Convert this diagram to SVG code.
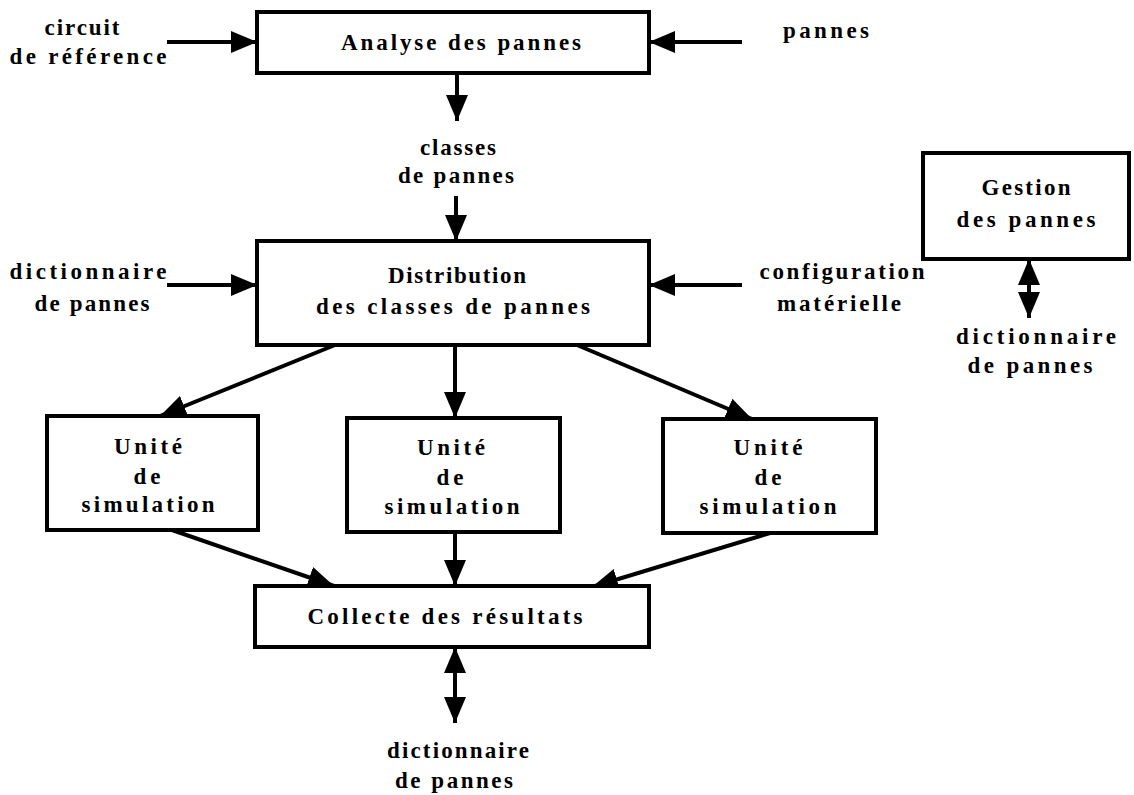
<svg xmlns="http://www.w3.org/2000/svg" width="1134" height="795" viewBox="0 0 1134 795">
<defs>
<style>
.box{fill:#fff;stroke:#000;stroke-width:4}
.c{stroke:#000;stroke-width:4;fill:none}
</style>
<marker id="ah" markerUnits="userSpaceOnUse" markerWidth="28" markerHeight="24" refX="26" refY="11" orient="auto-start-reverse" viewBox="0 0 28 24">
<path d="M0,0 L26,11 L0,22 z" fill="#000"/>
</marker>
</defs>
<rect width="1134" height="795" fill="#fff"/>
<g id="connectors">
<line class="c" x1="167" y1="42" x2="257" y2="42" marker-end="url(#ah)"/>
<line class="c" x1="742" y1="42" x2="649" y2="42" marker-end="url(#ah)"/>
<line class="c" x1="457" y1="73" x2="457" y2="121" marker-end="url(#ah)"/>
<line class="c" x1="456" y1="196" x2="456" y2="241" marker-end="url(#ah)"/>
<line class="c" x1="167" y1="285" x2="257" y2="285" marker-end="url(#ah)"/>
<line class="c" x1="742" y1="285" x2="649" y2="285" marker-end="url(#ah)"/>
<line class="c" x1="335" y1="345" x2="160" y2="416" marker-end="url(#ah)"/>
<line class="c" x1="455" y1="345" x2="455" y2="418" marker-end="url(#ah)"/>
<line class="c" x1="577" y1="345" x2="752" y2="419" marker-end="url(#ah)"/>
<line class="c" x1="172" y1="530" x2="334" y2="586" marker-end="url(#ah)"/>
<line class="c" x1="455" y1="532" x2="455" y2="586" marker-end="url(#ah)"/>
<line class="c" x1="770" y1="533" x2="592" y2="587" marker-end="url(#ah)"/>
<line class="c" x1="455" y1="647" x2="455" y2="723" marker-start="url(#ah)" marker-end="url(#ah)"/>
<line class="c" x1="1029" y1="259" x2="1029" y2="318" marker-start="url(#ah)" marker-end="url(#ah)"/>
</g>
<g font-family="Liberation Serif, DejaVu Serif, serif" font-weight="bold" font-size="23" text-anchor="middle" fill="#000">
<g id="analyse">
<rect class="box" x="257" y="12" width="392" height="61"/>
<text x="461" y="50" textLength="240" lengthAdjust="spacing">Analyse des pannes</text>
</g>
<g id="distribution">
<rect class="box" x="257" y="241" width="392" height="104"/>
<text x="457" y="283" textLength="138" lengthAdjust="spacing">Distribution</text>
<text x="453" y="314" textLength="274" lengthAdjust="spacing">des classes de pannes</text>
</g>
<g id="gestion">
<rect class="box" x="923" y="153" width="206" height="106"/>
<text x="1026" y="195" textLength="89" lengthAdjust="spacing">Gestion</text>
<text x="1026" y="227" textLength="139" lengthAdjust="spacing">des pannes</text>
</g>
<g id="unite1">
<rect class="box" x="47" y="416" width="211" height="114"/>
<text x="148" y="454" textLength="68" lengthAdjust="spacing">Unité</text>
<text x="147" y="484" textLength="27" lengthAdjust="spacing">de</text>
<text x="148" y="512" textLength="133" lengthAdjust="spacing">simulation</text>
</g>
<g id="unite2">
<rect class="box" x="347" y="418" width="213" height="114"/>
<text x="451" y="455" textLength="68" lengthAdjust="spacing">Unité</text>
<text x="450" y="485" textLength="27" lengthAdjust="spacing">de</text>
<text x="452" y="514" textLength="135" lengthAdjust="spacing">simulation</text>
</g>
<g id="unite3">
<rect class="box" x="663" y="419" width="213" height="114"/>
<text x="768" y="455" textLength="69" lengthAdjust="spacing">Unité</text>
<text x="768" y="485" textLength="27" lengthAdjust="spacing">de</text>
<text x="768" y="514" textLength="137" lengthAdjust="spacing">simulation</text>
</g>
<g id="collecte">
<rect class="box" x="255" y="586" width="394" height="61"/>
<text x="445" y="624" textLength="275" lengthAdjust="spacing">Collecte des résultats</text>
</g>
<g id="labels">
<text x="82" y="35" textLength="75" lengthAdjust="spacing">circuit</text>
<text x="88" y="64" textLength="157" lengthAdjust="spacing">de référence</text>
<text x="826" y="38" textLength="86" lengthAdjust="spacing">pannes</text>
<text x="458" y="155" textLength="76" lengthAdjust="spacing">classes</text>
<text x="456" y="183" textLength="116" lengthAdjust="spacing">de pannes</text>
<text x="88" y="279" textLength="157" lengthAdjust="spacing">dictionnaire</text>
<text x="92" y="311" textLength="115" lengthAdjust="spacing">de pannes</text>
<text x="842" y="279" textLength="165" lengthAdjust="spacing">configuration</text>
<text x="839" y="311" textLength="124" lengthAdjust="spacing">matérielle</text>
<text x="1036" y="344" textLength="160" lengthAdjust="spacing">dictionnaire</text>
<text x="1030" y="373" textLength="125" lengthAdjust="spacing">de pannes</text>
<text x="458" y="758" textLength="142" lengthAdjust="spacing">dictionnaire</text>
<text x="454" y="788" textLength="118" lengthAdjust="spacing">de pannes</text>
</g>
</g>
</svg>
